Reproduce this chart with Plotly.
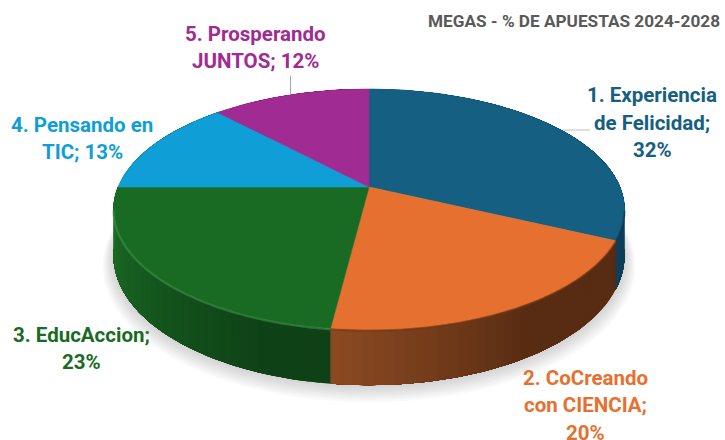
import math
import plotly.graph_objects as go

# ---- data
categories = ["1. Experiencia de Felicidad", "2. CoCreando con CIENCIA", "3. EducAccion",
              "4. Pensando en TIC", "5. Prosperando JUNTOS"]
shares = [32, 20, 23, 13, 12]
chart_title = "MEGAS - % DE APUESTAS 2024-2028"
label_lines = [["1. Experiencia", "de Felicidad;", "32%"],
               ["2. CoCreando", "con CIENCIA;", "20%"],
               ["3. EducAccion;", "23%"],
               ["4. Pensando en", "TIC; 13%"],
               ["5. Prosperando", "JUNTOS; 12%"]]

# ---- style
top_colors = ["#156082", "#E6702F", "#196B24", "#0F9ED5", "#A02B93"]
wall_from = [(14, 62, 88), (88, 44, 18), (14, 66, 22), (10, 90, 125), (90, 25, 85)]
wall_to = [(14, 62, 88), (140, 74, 34), (27, 107, 37), (10, 90, 125), (90, 25, 85)]
text_colors = ["#156082", "#E6702F", "#196B24", "#0F9ED5", "#A02B93"]
label_pos = [(652, 95), (585, 377.5), (81, 334.5), (82, 124.5), (255, 33.5)]
LINE_STEP = 27.5

# ---- pie projection (perspective view of a disc, in screen pixels)
CX, CY, A, B, K, DEPTH = 369, 187, 251, 116.3, 0.187, 44.8


def proj(theta, z=0.0, scale=1.0):
    w = 1 + K * math.cos(theta)
    return (CX + scale * A * math.sin(theta) / w,
            CY - scale * B * math.cos(theta) / w + z / w)


def arc(t0, t1, z=0.0, scale=1.0, step=1.0):
    n = max(2, int(abs(math.degrees(t1 - t0)) / step) + 1)
    return [proj(t0 + (t1 - t0) * i / (n - 1), z, scale) for i in range(n)]


def poly(fig, pts, color, line=None, width=0.6):
    xs = [p[0] for p in pts] + [pts[0][0]]
    ys = [p[1] for p in pts] + [pts[0][1]]
    fig.add_trace(go.Scatter(x=xs, y=ys, mode="lines", fill="toself", fillcolor=color,
                             line=dict(color=line or "rgba(0,0,0,0)", width=width if line else 0),
                             hoverinfo="skip", showlegend=False))


total = sum(shares)
edges = [0.0]
for s in shares:
    edges.append(edges[-1] + 2 * math.pi * s / total)

fig = go.Figure()

# soft shadow under the disc
for i in range(7):
    grow = 1.0 + 0.006 * (7 - i)
    poly(fig, arc(0, 2 * math.pi, DEPTH + 9 - i * 1.2, grow), "rgba(90,90,90,0.035)")

# outer wall, gradient bands painted over one another so no seams show
for i, c in enumerate(categories):
    t0, t1 = edges[i], edges[i + 1]
    bands = max(1, int(math.degrees(t1 - t0) / 2))
    for j in range(bands):
        a0 = t0 + (t1 - t0) * j / bands
        f = (j + 0.5) / bands
        if i == 1:
            g = max(0.0, (f - 0.45) / 0.55)
        elif i == 2:
            g = max(0.0, min(1.0, (f - 0.15) / 0.7))
        else:
            g = f
        col = [round(u + (v - u) * g) for u, v in zip(wall_from[i], wall_to[i])]
        hexcol = "#%02x%02x%02x" % tuple(col)
        poly(fig, arc(a0, t1, 0) + arc(t1, a0, DEPTH), hexcol)

# top face
for i, c in enumerate(categories):
    pts = [(CX, CY)] + arc(edges[i], edges[i + 1])
    poly(fig, pts, top_colors[i], top_colors[i])

# bevel along the front of the rim
bevel = ["rgba(10,50,75,0.45)", "rgba(110,55,20,0.55)", "rgba(70,150,80,0.55)"]
for i in (0, 1, 2):
    t0 = edges[i] if i else math.radians(101)
    t1 = edges[i + 1] if i < 2 else math.radians(259)
    pts = arc(t0, t1, 0.5)
    fig.add_trace(go.Scatter(x=[p[0] for p in pts], y=[p[1] for p in pts], mode="lines",
                             line=dict(color=bevel[i], width=2.2, shape="spline"),
                             hoverinfo="skip", showlegend=False))

# leader lines
shapes = [dict(type="line", xref="x", yref="y", x0=563, y0=130, x1=590, y1=130,
               line=dict(color="#BFBFBF", width=1)),
          dict(type="line", xref="x", yref="y", x0=290.5, y0=76, x1=290.5, y1=95,
               line=dict(color="#A6A6A6", width=1))]

annotations = [dict(x=722, y=21, xref="x", yref="y", text=f"<b>{chart_title}</b>", showarrow=False,
                    xanchor="right", yanchor="middle",
                    font=dict(family="Roboto", size=17.2, color="#595959"))]
for lines, (lx, ly), col in zip(label_lines, label_pos, text_colors):
    for k, line in enumerate(lines):
        annotations.append(dict(x=lx, y=ly + k * LINE_STEP, xref="x", yref="y", text=f"<b>{line}</b>",
                                showarrow=False, xanchor="center", yanchor="middle",
                                font=dict(family="Roboto", size=20.5, color=col)))

fig.update_layout(width=725, height=440, margin=dict(l=0, r=0, t=0, b=0),
                  paper_bgcolor="white", plot_bgcolor="white", showlegend=False,
                  xaxis=dict(range=[0, 725], visible=False, fixedrange=True),
                  yaxis=dict(range=[440, 0], visible=False, fixedrange=True),
                  shapes=shapes, annotations=annotations)
fig.write_html("out.html", config={"displayModeBar": False},
               post_script="document.body.style.margin='0';document.documentElement.style.overflow='hidden';")
